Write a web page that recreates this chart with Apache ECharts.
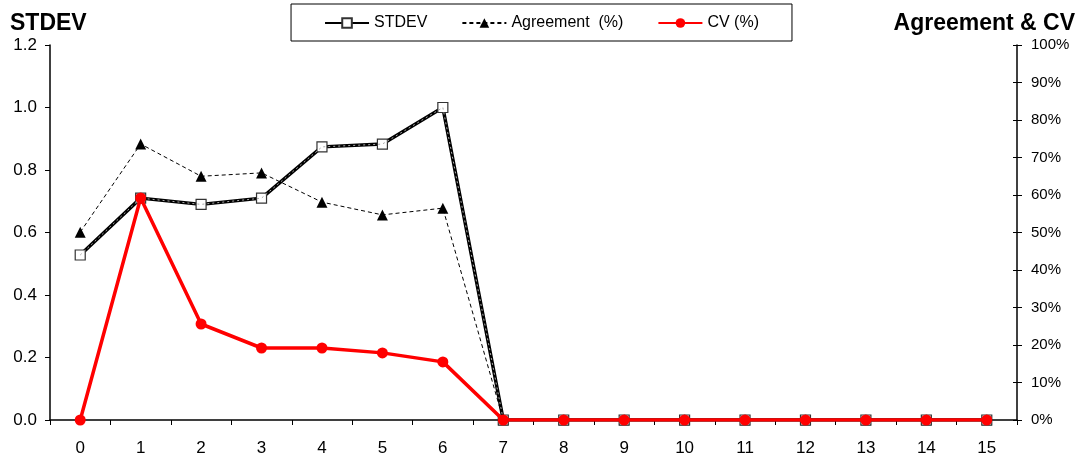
<!DOCTYPE html>
<html><head><meta charset="utf-8">
<script src="https://cdn.jsdelivr.net/npm/echarts@6/dist/echarts.min.js"></script>
<style>html,body{margin:0;padding:0;background:#fff}#c{width:1083px;height:464px}</style>
</head><body><div id="c"></div>
<script>
var categories = ['0','1','2','3','4','5','6','7','8','9','10','11','12','13','14','15'];
var stdev = [0.528, 0.71, 0.69, 0.71, 0.874, 0.883, 1.0, 0, 0, 0, 0, 0, 0, 0, 0, 0];
var agreement = [50.1, 73.6, 65.0, 65.9, 58.1, 54.7, 56.5, 0, 0, 0, 0, 0, 0, 0, 0, 0];
var cv = [0, 59.2, 25.6, 19.2, 19.2, 17.9, 15.5, 0, 0, 0, 0, 0, 0, 0, 0, 0];

var font = 'Liberation Sans, Arial, sans-serif';
var chart = echarts.init(document.getElementById('c'));
chart.setOption({
  animation: false,
  textStyle: {fontFamily: font, color: '#000'},
  grid: {left: 50, right: 66, top: 45, bottom: 44},
  legend: {
    top: 4, left: 'center',
    data: ['STDEV', 'Agreement  (%)', 'CV (%)'],
    borderColor: '#000', borderWidth: 1,
    padding: [11, 33, 10, 33],
    itemGap: 34, itemWidth: 44, itemHeight: 12,
    textStyle: {fontFamily: font, fontSize: 16, color: '#000'}
  },
  graphic: [
    {type: 'text', left: 10, top: 12, style: {text: 'STDEV', font: 'bold 23px ' + font, fill: '#000'}},
    {type: 'text', right: 8, top: 12, style: {text: 'Agreement & CV', font: 'bold 23px ' + font, fill: '#000'}}
  ],
  xAxis: {
    type: 'category', data: categories, boundaryGap: true,
    axisLine: {lineStyle: {color: '#000', width: 1.5}},
    axisTick: {show: true, inside: false, length: 5, lineStyle: {color: '#000'}},
    axisLabel: {fontSize: 17, color: '#000', margin: 20, fontFamily: font}
  },
  yAxis: [
    {type: 'value', min: 0, max: 1.2, interval: 0.2, position: 'left',
     axisLine: {show: true, lineStyle: {color: '#000', width: 1.5}},
     axisTick: {show: true, length: 5, lineStyle: {color: '#000'}},
     splitLine: {show: false},
     axisLabel: {fontSize: 17, color: '#000', margin: 13, fontFamily: font, formatter: function(v){return v.toFixed(1);}}},
    {type: 'value', min: 0, max: 100, interval: 10, position: 'right',
     axisLine: {show: true, lineStyle: {color: '#000', width: 1.5}},
     axisTick: {show: true, length: 5, lineStyle: {color: '#000'}},
     splitLine: {show: false},
     axisLabel: {fontSize: 15, color: '#000', margin: 14, fontFamily: font, formatter: function(v){return Math.round(v) + '%';}}},
    {type: 'value', min: 0, max: 100, interval: 10, position: 'right',
     axisLine: {show: false},
     axisTick: {show: true, inside: true, length: 4, lineStyle: {color: '#000'}},
     splitLine: {show: false},
     axisLabel: {show: false}}
  ],
  series: [
    {name: 'STDEV', type: 'line', yAxisIndex: 0, data: stdev,
     lineStyle: {color: '#000', width: 3.5},
     itemStyle: {color: '#fff', borderColor: '#333', borderWidth: 1.2},
     symbol: 'rect', symbolSize: 10, z: 3},
    {name: 'STDEV_overlay', type: 'line', yAxisIndex: 0, data: stdev, silent: true,
     lineStyle: {color: '#aaa', width: 1, type: [2, 3]}, symbol: 'none', z: 4},
    {name: 'Agreement  (%)', type: 'line', yAxisIndex: 1, data: agreement,
     lineStyle: {color: '#000', width: 1, type: [4, 3]},
     itemStyle: {color: '#000'},
     symbol: 'triangle', symbolSize: 11, z: 2},
    {name: 'CV (%)', type: 'line', yAxisIndex: 1, data: cv,
     lineStyle: {color: '#ff0000', width: 3.5},
     itemStyle: {color: '#ff0000'},
     symbol: 'circle', symbolSize: 11, z: 5}
  ]
});
</script></body></html>
